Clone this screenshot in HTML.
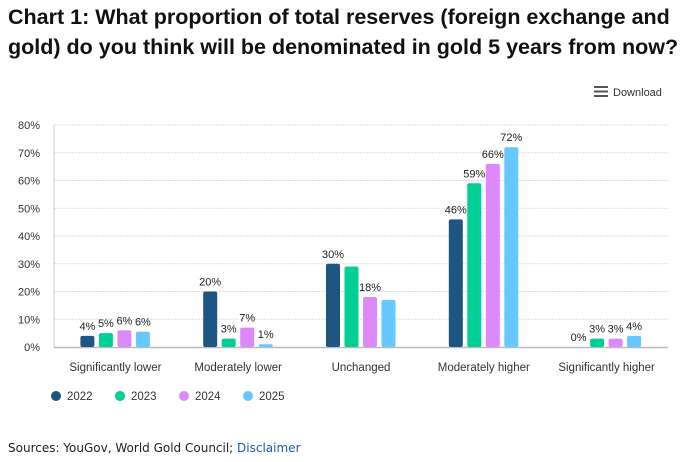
<!DOCTYPE html>
<html><head><meta charset="utf-8"><style>
body{margin:0;background:#fff;font-family:"Liberation Sans",sans-serif;}
#wrap{position:relative;width:685px;height:462px;overflow:hidden}
h1{position:absolute;left:8px;top:2px;margin:0;font-family:"Liberation Sans",sans-serif;font-size:21.5px;font-weight:bold;line-height:30px;color:#111;white-space:nowrap}
#dl{position:absolute;left:594px;top:86px;font-size:11px;color:#333}
#src{position:absolute;left:8px;top:441px;font-family:"DejaVu Sans",sans-serif;font-size:12px;color:#222}
#src a{color:#1f5bb0;text-decoration:none}
</style></head><body><div id="wrap">
<h1>Chart 1: What proportion of total reserves (foreign exchange and<br>gold) do you think will be denominated in gold 5 years from now?</h1>
<div id="dl"><svg width="14" height="11" style="vertical-align:-1px;margin-right:5px"><rect y="0" width="14" height="2" fill="#555"/><rect y="4.5" width="14" height="2" fill="#555"/><rect y="9" width="14" height="2" fill="#555"/></svg>Download</div>
<svg id="chart" width="685" height="462" style="position:absolute;left:0;top:0"></svg>
<div id="src">Sources: YouGov, World Gold Council; <a>Disclaimer</a></div>
</div>
<script>
const categories=["Significantly lower","Moderately lower","Unchanged","Moderately higher","Significantly higher"];
const years=["2022","2023","2024","2025"];
const colors=["#1f5582","#00cf96","#dd88fb","#66c8ff"];
const v2022=[4,20,30,46,0];
const v2023=[5,3,29,59,3];
const v2024=[6,7,18,66,3];
const v2025=[5.5,1,17,72,4];
const l2022=["4%","20%","30%","46%","0%"];
const l2023=["5%","3%","","59%","3%"];
const l2024=["6%","7%","18%","66%","3%"];
const l2025=["6%","1%","","72%","4%"];
const yTicks=[0,10,20,30,40,50,60,70,80];
const series=[v2022,v2023,v2024,v2025], labels=[l2022,l2023,l2024,l2025];
const svg=document.getElementById('chart'),NS="http://www.w3.org/2000/svg";
const L=54,R=668,Y0=347,Y80=125;
const y=v=>Y0-(v/80)*(Y0-Y80);
const gw=(R-L)/categories.length;
const x=(ci,si)=>L+gw*ci+gw/2-35+si*18.5;
function mk(t,a,txt){const e=document.createElementNS(NS,t);for(const k in a)e.setAttribute(k,a[k]);if(txt!=null)e.textContent=txt;svg.appendChild(e);return e;}
yTicks.forEach(t=>{
 if(t>0){const g=mk('line',{x1:L,x2:R,y1:y(t),y2:y(t),stroke:'#ddd','stroke-dasharray':'2,1'});
 
 }
 const e=mk('text',{x:40,y:y(t)+4,'text-anchor':'end','font-size':11,fill:'#333','font-family':'Liberation Sans'},t+'%');
 
 
});
const ax=mk('line',{x1:L,x2:L,y1:Y80,y2:Y0,stroke:'#ccc'});


const bx=mk('line',{x1:L,x2:R,y1:Y0+0.5,y2:Y0+0.5,stroke:'#bbb','stroke-width':1.5});


categories.forEach((c,ci)=>{
 series.forEach((s,si)=>{
  const h=Y0-y(s[ci]);
  if(h>0){const r=mk('rect',{x:x(ci,si),y:y(s[ci]),width:14,height:h,rx:2,fill:colors[si]});
  
  }
  if(labels[si][ci]){const t=mk('text',{x:x(ci,si)+7,y:y(s[ci])-6,'text-anchor':'middle','font-size':11,fill:'#222','font-family':'Liberation Sans'},labels[si][ci]);
  
  }
 });
 const t=mk('text',{x:L+gw*ci+gw/2,y:371,'text-anchor':'middle','font-size':11.5,fill:'#333','font-family':'Liberation Sans'},c);
 
 
});
years.forEach((yr,i)=>{
 const cx=56+i*64;
 const c=mk('circle',{cx:cx,cy:396,r:5,fill:colors[i]});
 
 
 const t=mk('text',{x:cx+11,y:400,'font-size':11.5,fill:'#333','font-family':'Liberation Sans'},yr);
 
 
});
</script></body></html>
